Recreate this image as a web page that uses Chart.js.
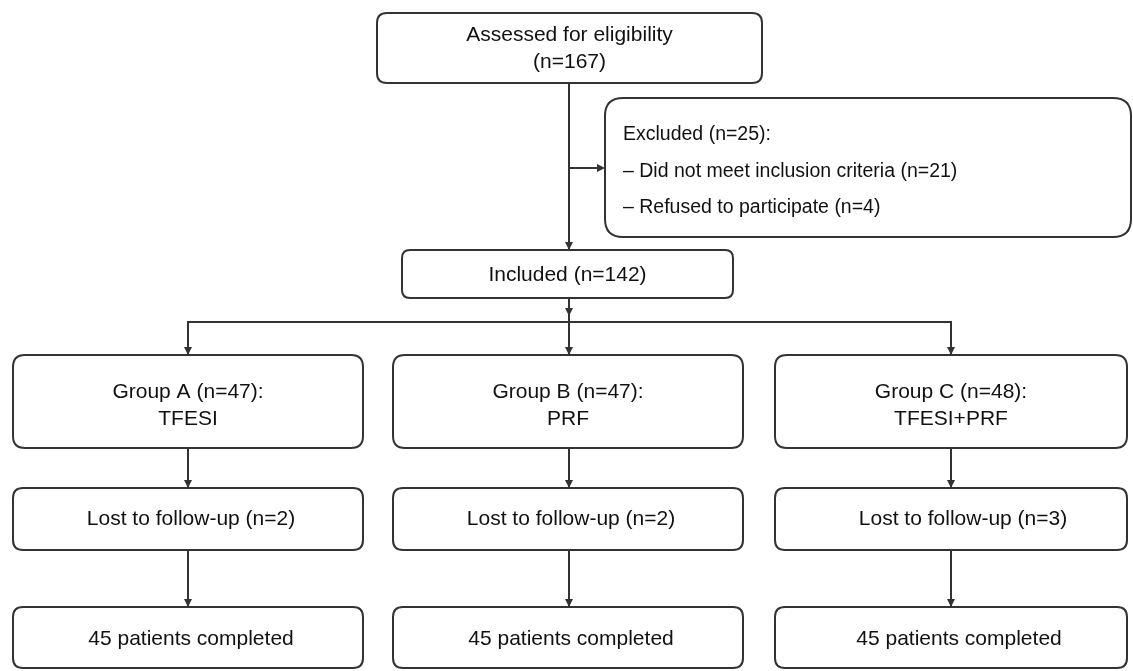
<!DOCTYPE html>
<html>
<head>
<meta charset="utf-8">
<script src="https://cdn.jsdelivr.net/npm/chart.js@4.4.0/dist/chart.umd.min.js"></script>
<style>
  html, body { margin: 0; padding: 0; background: #fff; }
  #wrap { width: 1133px; height: 671px; }
</style>
</head>
<body>
<div id="wrap"><canvas id="flow" width="1133" height="671"></canvas></div>
<script>
// flow counts
const assessed = 167;
const excluded = 25;
const excludedReasons = ['Did not meet inclusion criteria', 'Refused to participate'];
const excludedCounts = [21, 4];
const included = 142;
const groupNames = ['Group A', 'Group B', 'Group C'];
const groupTreatments = ['TFESI', 'PRF', 'TFESI+PRF'];
const groupCounts = [47, 47, 48];
const lostCounts = [2, 2, 3];
const completedCounts = [45, 45, 45];

// layout in canvas units (x: 0..1133, y: 0..671 top-down)
const layout = {
    top:      { x0: 377, x1: 762, y0: 13,  y1: 83,  r: 10 },
    excl:     { x0: 605, x1: 1131, y0: 98, y1: 237, r: 18 },
    incl:     { x0: 402, x1: 733, y0: 250, y1: 298, r: 8 },
    groupX:   [[13, 363], [393, 743], [775, 1127]],
    group:    { y0: 355, y1: 448, r: 12 },
    lost:     { y0: 488, y1: 550, r: 10 },
    done:     { y0: 607, y1: 668, r: 10 },
    trunkX: 569,
    branchY: 322,
    exclArrowY: 168
};

const ink = '#333333';
const font = '21px "Liberation Sans", Arial, sans-serif';
const fontExcl = '19.5px "Liberation Sans", Arial, sans-serif';

function roundBox(ctx, x0, y0, x1, y1, r) {
    ctx.beginPath();
    ctx.moveTo(x0 + r, y0);
    ctx.lineTo(x1 - r, y0);
    ctx.quadraticCurveTo(x1, y0, x1, y0 + r);
    ctx.lineTo(x1, y1 - r);
    ctx.quadraticCurveTo(x1, y1, x1 - r, y1);
    ctx.lineTo(x0 + r, y1);
    ctx.quadraticCurveTo(x0, y1, x0, y1 - r);
    ctx.lineTo(x0, y0 + r);
    ctx.quadraticCurveTo(x0, y0, x0 + r, y0);
    ctx.closePath();
    ctx.fillStyle = '#fff';
    ctx.fill();
    ctx.stroke();
}

function arrowHead(ctx, x, y, dir) {
    ctx.beginPath();
    if (dir === 'down') {
        ctx.moveTo(x, y);
        ctx.lineTo(x - 4, y - 8);
        ctx.lineTo(x + 4, y - 8);
    } else {
        ctx.moveTo(x, y);
        ctx.lineTo(x - 8, y - 4);
        ctx.lineTo(x - 8, y + 4);
    }
    ctx.closePath();
    ctx.fillStyle = ink;
    ctx.fill();
}

function line(ctx, pts) {
    ctx.beginPath();
    ctx.moveTo(pts[0][0], pts[0][1]);
    for (let i = 1; i < pts.length; i++) ctx.lineTo(pts[i][0], pts[i][1]);
    ctx.stroke();
}

const flowPlugin = {
    id: 'flow',
    afterDraw(chart) {
        const ctx = chart.ctx;
        const sx = v => chart.scales.x.getPixelForValue(v);
        const sy = v => chart.scales.y.getPixelForValue(v);
        const L = layout;

        ctx.save();
        ctx.strokeStyle = ink;
        ctx.lineWidth = 2;
        ctx.textBaseline = 'middle';

        // connectors
        const tx = sx(L.trunkX);
        line(ctx, [[tx, sy(L.top.y1)], [tx, sy(L.incl.y0) - 1]]);
        arrowHead(ctx, tx, sy(L.incl.y0), 'down');
        line(ctx, [[tx, sy(L.exclArrowY)], [sx(L.excl.x0) - 2, sy(L.exclArrowY)]]);
        arrowHead(ctx, sx(L.excl.x0), sy(L.exclArrowY), 'right');

        const centers = L.groupX.map(g => sx((g[0] + g[1]) / 2));
        centers[1] = tx;
        line(ctx, [[tx, sy(L.incl.y1)], [tx, sy(L.group.y0)]]);
        arrowHead(ctx, tx, sy(L.branchY - 6), 'down');
        line(ctx, [[centers[0], sy(L.group.y0)], [centers[0], sy(L.branchY)], [centers[2], sy(L.branchY)], [centers[2], sy(L.group.y0)]]);
        centers.forEach(cx => {
            arrowHead(ctx, cx, sy(L.group.y0), 'down');
            line(ctx, [[cx, sy(L.group.y1)], [cx, sy(L.lost.y0) - 1]]);
            arrowHead(ctx, cx, sy(L.lost.y0), 'down');
            line(ctx, [[cx, sy(L.lost.y1)], [cx, sy(L.done.y0) - 1]]);
            arrowHead(ctx, cx, sy(L.done.y0), 'down');
        });

        // boxes
        const box = (b, x0, x1) => roundBox(ctx, sx(x0), sy(b.y0), sx(x1), sy(b.y1), b.r);
        box(L.top, L.top.x0, L.top.x1);
        box(L.excl, L.excl.x0, L.excl.x1);
        box(L.incl, L.incl.x0, L.incl.x1);
        L.groupX.forEach(g => {
            box(L.group, g[0], g[1]);
            box(L.lost, g[0], g[1]);
            box(L.done, g[0], g[1]);
        });

        // texts
        ctx.fillStyle = '#111';
        ctx.font = font;
        ctx.textAlign = 'center';
        const topCx = sx((L.top.x0 + L.top.x1) / 2);
        ctx.fillText('Assessed for eligibility', topCx, sy(35));
        ctx.fillText('(n=' + assessed + ')', topCx, sy(62));
        ctx.fillText('Included (n=' + included + ')', sx((L.incl.x0 + L.incl.x1) / 2), sy(275));

        groupNames.forEach((name, i) => {
            const cx = sx((L.groupX[i][0] + L.groupX[i][1]) / 2);
            ctx.fillText(name + ' (n=' + groupCounts[i] + '):', cx, sy(392));
            ctx.fillText(groupTreatments[i], cx, sy(419));
            ctx.fillText('Lost to follow-up (n=' + lostCounts[i] + ')', cx + (i === 2 ? 12 : 3), sy(519));
            ctx.fillText(completedCounts[i] + ' patients completed', cx + (i === 2 ? 8 : 3), sy(639));
        });

        ctx.font = fontExcl;
        ctx.textAlign = 'left';
        const ex = sx(623);
        ctx.fillText('Excluded (n=' + excluded + '):', ex, sy(135));
        excludedReasons.forEach((r, i) => {
            ctx.fillText('\u2013 ' + r + ' (n=' + excludedCounts[i] + ')', ex, sy(172 + i * 36));
        });
        ctx.restore();
    }
};

new Chart(document.getElementById('flow'), {
    type: 'scatter',
    data: { datasets: [{ data: [], pointRadius: 0 }] },
    options: {
        responsive: false,
        animation: false,
        layout: { padding: 0 },
        plugins: { legend: { display: false }, tooltip: { enabled: false } },
        scales: {
            x: { type: 'linear', min: 0, max: 1133, display: false },
            y: { type: 'linear', min: 0, max: 671, reverse: true, display: false }
        }
    },
    plugins: [flowPlugin]
});
</script>
</body>
</html>
